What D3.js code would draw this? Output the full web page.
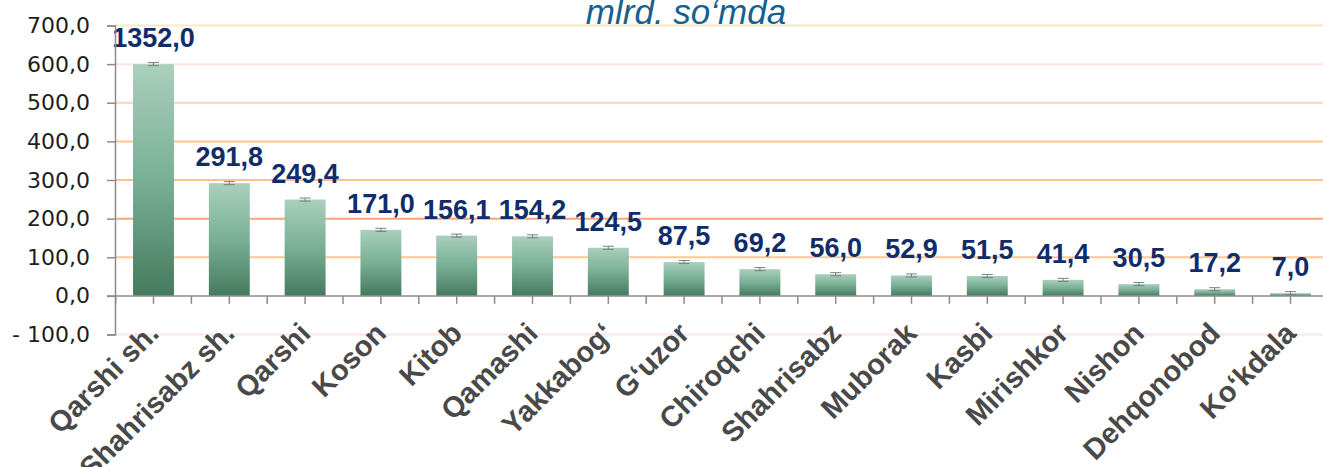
<!DOCTYPE html>
<html>
<head>
<meta charset="utf-8">
<script src="https://cdn.jsdelivr.net/npm/d3@7"></script>
<style>
  html, body { margin: 0; padding: 0; background: #ffffff; }
  svg { display: block; }
</style>
</head>
<body>
<svg id="chart" width="1323" height="467"></svg>
<script>
// Districts / cities
const categories = [
  "Qarshi sh.", "Shahrisabz sh.", "Qarshi", "Koson", "Kitob", "Qamashi",
  "Yakkabog‘", "G‘uzor", "Chiroqchi", "Shahrisabz", "Muborak", "Kasbi",
  "Mirishkor", "Nishon", "Dehqonobod", "Ko‘kdala"
];
// Values, mlrd. so'm
const values = [
  1352.0, 291.8, 249.4, 171.0, 156.1, 154.2, 124.5, 87.5,
  69.2, 56.0, 52.9, 51.5, 41.4, 30.5, 17.2, 7.0
];
// Error bar half-widths
const errors = [4, 4, 4, 4, 4, 4, 4, 4, 4, 4, 4, 4, 4, 4, 4, 4];
// Y axis ticks
const yTicks = [-100, 0, 100, 200, 300, 400, 500, 600, 700];
const gridColors = {
  "-100": "#fde3ea", "0": "none", "100": "#fcc795", "200": "#f7a77a",
  "300": "#fbc08e", "400": "#fbc98c", "500": "#fcd3bd", "600": "#fde3dc", "700": "#fde9c6"
};
// Bars taller than this are drawn cut at this level
const barCeiling = 600;

const svg = d3.select("#chart");
const W = 1323;

const x = d3.scaleBand().domain(categories).range([115.6, 115.6 + 16 * 75.8]).padding(0);
const y = d3.scaleLinear().domain([-100, 700]).range([334.5, 25.5]);
const bw = x.bandwidth() * 0.54;
const fmt = d => (d < 0 ? "- " : "") + Math.abs(d).toFixed(1).replace(".", ",");

// gradient for bars
const defs = svg.append("defs");
const grad = defs.append("linearGradient").attr("id", "barGrad")
  .attr("x1", 0).attr("y1", 0).attr("x2", 0).attr("y2", 1);
grad.append("stop").attr("offset", "0%").attr("stop-color", "#aacfbd");
grad.append("stop").attr("offset", "50%").attr("stop-color", "#78af95");
grad.append("stop").attr("offset", "100%").attr("stop-color", "#467a5f");

// gridlines
svg.append("g").selectAll("line").data(yTicks.filter(t => t !== 0)).join("line")
  .attr("x1", 115).attr("x2", W)
  .attr("y1", d => y(d)).attr("y2", d => y(d))
  .attr("stroke", d => gridColors[d]).attr("stroke-width", 2);

// title
svg.append("text")
  .attr("x", 686).attr("y", 24)
  .attr("text-anchor", "middle")
  .attr("font-family", "Liberation Sans, Arial, sans-serif")
  .attr("font-style", "italic")
  .attr("font-size", 35)
  .attr("fill", "#16608f")
  .text("mlrd. so‘mda");

// bars
const cx = d => x(d) + x.bandwidth() / 2;
const shown = v => Math.min(v, barCeiling);
svg.append("g").selectAll("rect").data(categories).join("rect")
  .attr("x", d => cx(d) - bw / 2)
  .attr("width", bw)
  .attr("y", (d, i) => y(shown(values[i])))
  .attr("height", (d, i) => y(0) - y(shown(values[i])))
  .attr("fill", "url(#barGrad)");

// error bars
const eb = svg.append("g").attr("stroke", "#7d7d7d").attr("stroke-width", 1);
categories.forEach((c, i) => {
  const v = shown(values[i]);
  const top = y(v + errors[i]), bot = y(v - errors[i]);
  eb.append("line").attr("x1", cx(c)).attr("x2", cx(c)).attr("y1", top).attr("y2", bot);
  eb.append("line").attr("x1", cx(c) - 5.5).attr("x2", cx(c) + 5.5).attr("y1", top).attr("y2", top);
  eb.append("line").attr("x1", cx(c) - 5.5).attr("x2", cx(c) + 5.5).attr("y1", bot).attr("y2", bot);
});

// value labels
svg.append("g").selectAll("text").data(categories).join("text")
  .attr("x", d => cx(d))
  .attr("y", (d, i) => y(shown(values[i])) - 17)
  .attr("text-anchor", "middle")
  .attr("font-family", "Liberation Sans, Arial, sans-serif")
  .attr("font-weight", "bold")
  .attr("font-size", 27)
  .attr("fill", "#102c6b")
  .text((d, i) => fmt(values[i]));

// y axis
const yAxis = d3.axisLeft(y).tickValues(yTicks).tickFormat(fmt).tickSize(8).tickPadding(17);
const gy = svg.append("g").attr("transform", "translate(115,0)").call(yAxis);
gy.select(".domain").attr("stroke", "#8c8c8c").attr("stroke-width", 1.5);
gy.selectAll(".tick line").attr("stroke", "#8c8c8c").attr("stroke-width", 1.5);
gy.selectAll(".tick text")
  .attr("font-family", "DejaVu Sans, sans-serif")
  .attr("font-size", 22)
  .attr("fill", "#1e1e1e");

// x axis: line, ticks at band edges and centres
const gx = svg.append("g");
gx.append("line").attr("x1", 107).attr("x2", W).attr("y1", y(0)).attr("y2", y(0))
  .attr("stroke", "#8c8c8c").attr("stroke-width", 1.5);
const tickXs = [];
categories.forEach(c => { tickXs.push(x(c)); tickXs.push(cx(c)); });
gx.selectAll("line.t").data(tickXs).join("line").attr("class", "t")
  .attr("x1", d => d).attr("x2", d => d)
  .attr("y1", y(0)).attr("y2", y(0) + 8)
  .attr("stroke", "#8c8c8c").attr("stroke-width", 1.5);

// category labels
svg.append("g").selectAll("text").data(categories).join("text")
  .attr("transform", d => `translate(${cx(d) + 7},${335}) rotate(-45)`)
  .attr("text-anchor", "end")
  .attr("font-family", "Liberation Sans, Arial, sans-serif")
  .attr("font-weight", "bold")
  .attr("font-size", 29)
  .attr("fill", "#494949")
  .text(d => d);
</script>
</body>
</html>
